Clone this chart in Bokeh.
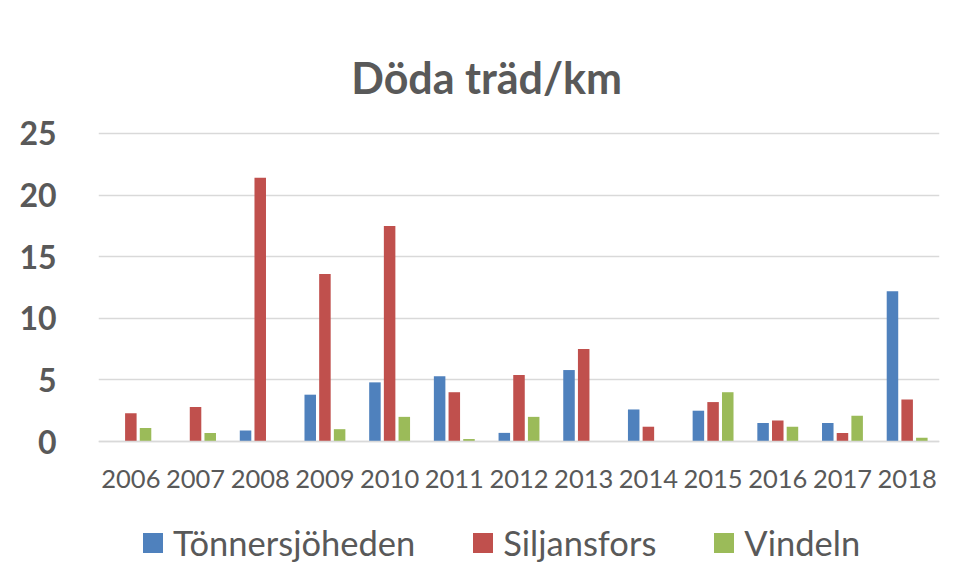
from bokeh.plotting import figure
from bokeh.models import (ColumnDataSource, FactorRange, Range1d, FixedTicker, Legend,
                          LegendItem, Label)
from bokeh.transform import dodge
from bokeh.embed import file_html
from bokeh.resources import INLINE

years = ["2006", "2007", "2008", "2009", "2010", "2011", "2012",
         "2013", "2014", "2015", "2016", "2017", "2018"]
tonnersjoheden = [0, 0, 0.9, 3.8, 4.8, 5.3, 0.7, 5.8, 2.6, 2.5, 1.5, 1.5, 12.2]
siljansfors = [2.3, 2.8, 21.4, 13.6, 17.5, 4.0, 5.4, 7.5, 1.2, 3.2, 1.7, 0.7, 3.4]
vindeln = [1.1, 0.7, 0, 1.0, 2.0, 0.2, 2.0, 0, 0, 4.0, 1.2, 2.1, 0.3]
y_ticks = [0, 5, 10, 15, 20, 25]
series_names = ["Tönnersjöheden", "Siljansfors", "Vindeln"]
colors = ["#4F81BD", "#C0504D", "#9BBB59"]
title_text = "Döda träd/km"

source = ColumnDataSource(dict(year=years, t=tonnersjoheden, s=siljansfors, v=vindeln))

FONT = "Lato"
TXT = "#595959"
GRID = "#d9d9d9"

# frame spans the full canvas height; 12.32 px per unit, zero at 441 px from top
p = figure(x_range=FactorRange(*years, range_padding=0), y_range=Range1d(-10.795, 35.795),
           width=950, height=574, output_backend="svg", toolbar_location=None,
           min_border_left=98, min_border_right=11, min_border_top=0, min_border_bottom=0)
p.outline_line_color = None
p.background_fill_color = "white"
p.border_fill_color = "white"

offs = [-0.227, 0, 0.227]
renderers = []
for col, off, c in zip(["t", "s", "v"], offs, colors):
    r = p.vbar(x=dodge("year", off, range=p.x_range), top=col, width=0.178, source=source,
               fill_color=c, line_color=None)
    renderers.append(r)

p.yaxis.ticker = FixedTicker(ticks=y_ticks)
p.ygrid.ticker = FixedTicker(ticks=y_ticks)
p.ygrid.grid_line_color = GRID
p.ygrid.grid_line_width = 1.5
p.xgrid.grid_line_color = None

p.yaxis.axis_line_color = None
p.yaxis.major_tick_line_color = None
p.yaxis.minor_tick_line_color = None
p.yaxis.major_label_text_font = FONT
p.yaxis.major_label_text_font_style = "bold"
p.yaxis.major_label_text_font_size = "32px"
p.yaxis.major_label_text_color = TXT
p.yaxis.major_label_standoff = 36

p.xaxis.fixed_location = 0
p.xaxis.axis_line_color = GRID
p.xaxis.axis_line_width = 1.5
p.xaxis.major_tick_line_color = None
p.xaxis.minor_tick_line_color = None
p.xaxis.major_label_text_font = FONT
p.xaxis.major_label_text_font_size = "25.5px"
p.xaxis.major_label_text_color = TXT
p.xaxis.major_label_standoff = 22

title = Label(x=6.0, y=29.55, text=title_text, text_font=FONT, text_font_style="bold",
              text_font_size="43px", text_color=TXT, text_align="center",
              text_baseline="alphabetic")
p.add_layout(title)

legend = Legend(items=[LegendItem(label=n, renderers=[r]) for n, r in zip(series_names, renderers)],
                orientation="horizontal", location=(42, 11),
                glyph_width=25, glyph_height=25, label_standoff=8, spacing=55,
                label_text_font=FONT, label_text_font_size="34.5px", label_text_color=TXT,
                border_line_color=None, background_fill_alpha=0, padding=0, margin=0)
p.add_layout(legend, "center")

open("out.html", "w").write(file_html(p, INLINE))
